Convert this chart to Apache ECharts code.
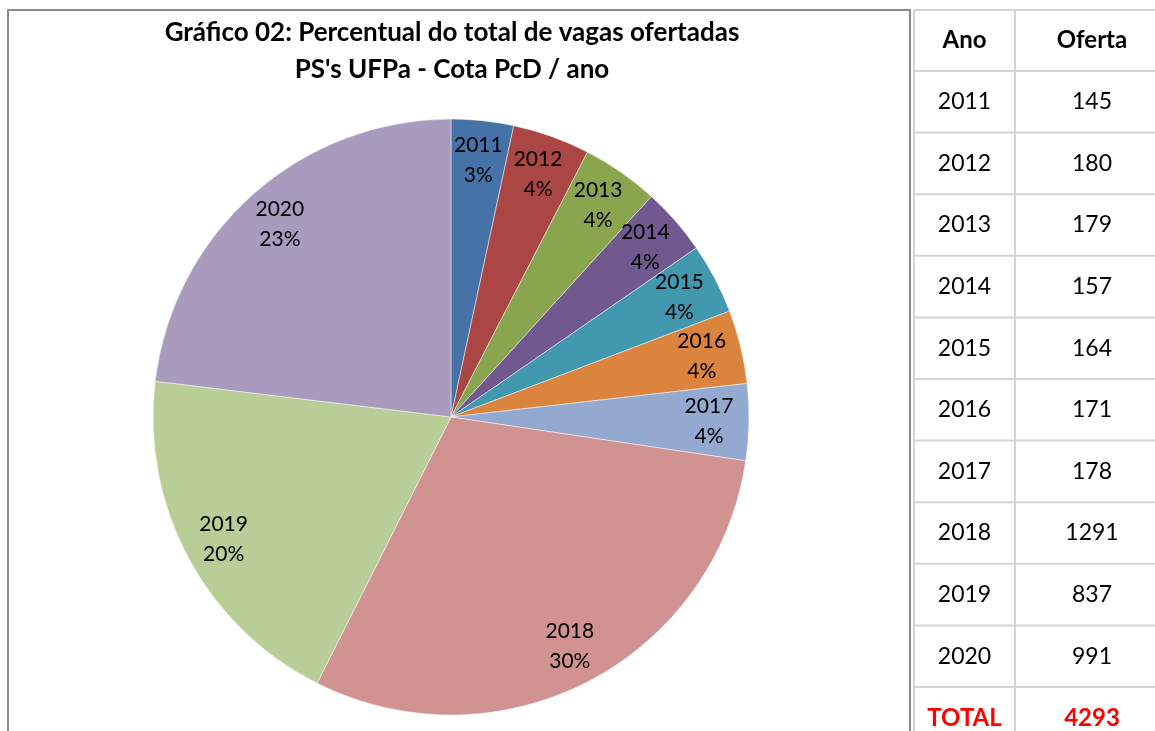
<!DOCTYPE html>
<html>
<head>
<meta charset="utf-8">
<title>Gráfico 02</title>
<script src="https://cdn.jsdelivr.net/npm/echarts@6/dist/echarts.min.js"></script>
<style>
  html, body { margin: 0; padding: 0; background: #fff; }
  #chart { width: 1155px; height: 731px; }
</style>
</head>
<body>
<div id="chart"></div>
<script>
// dados do gráfico / tabela
var anos = ['2011', '2012', '2013', '2014', '2015', '2016', '2017', '2018', '2019', '2020'];
var oferta = [145, 180, 179, 157, 164, 171, 178, 1291, 837, 991];
var cores = ['#4572A7', '#AA4643', '#89A54E', '#71588F', '#4198AF', '#DB843D', '#93A9CF', '#D19392', '#B9CD96', '#A99BBD'];
var titulo = ['Gráfico 02: Percentual do total de vagas ofertadas', "PS's UFPa - Cota PcD / ano"];
var cabecalho = ['Ano', 'Oferta'];

var fonte = 'Lato';
var chart = echarts.init(document.getElementById('chart'));

var total = 0;
for (var i = 0; i < oferta.length; i++) total += oferta[i];

var pieData = [];
for (var i = 0; i < anos.length; i++) {
  pieData.push({ name: anos[i], value: oferta[i], itemStyle: { color: cores[i] } });
}

// tabela à direita (graphic)
var tab = { x0: 914, x1: 1015, x2: 1175, y0: 10, h0: 61, h: 61.6 };
var graphic = [];
// moldura do gráfico
graphic.push({
  type: 'rect', shape: { x: 8, y: 10, width: 902, height: 740 },
  style: { fill: null, stroke: '#8a8a8a', lineWidth: 2 }, z: 10
});
// título
graphic.push({
  type: 'text', x: 452, y: 33,
  style: { text: titulo[0], font: 'bold 26px ' + fonte, fill: '#000', align: 'center', verticalAlign: 'middle' }
});
graphic.push({
  type: 'text', x: 452, y: 70,
  style: { text: titulo[1], font: 'bold 26px ' + fonte, fill: '#000', align: 'center', verticalAlign: 'middle' }
});

var linhas = [cabecalho];
for (var i = 0; i < anos.length; i++) linhas.push([anos[i], String(oferta[i])]);
linhas.push(['TOTAL', String(total)]);

var lc = '#d4d4d4';
var yTop = tab.y0;
for (var r = 0; r < linhas.length; r++) {
  var hh = r === 0 ? tab.h0 : tab.h;
  var cy = yTop + hh / 2;
  var bold = (r === 0 || r === linhas.length - 1);
  var cor = r === linhas.length - 1 ? '#ff0000' : '#000';
  var f = bold ? 'bold 24px ' + fonte : '23px ' + fonte;
  graphic.push({
    type: 'text', x: (tab.x0 + tab.x1) / 2, y: cy,
    style: { text: linhas[r][0], font: f, fill: cor, align: 'center', verticalAlign: 'middle' }
  });
  graphic.push({
    type: 'text', x: 1092, y: cy,
    style: { text: linhas[r][1], font: f, fill: cor, align: 'center', verticalAlign: 'middle' }
  });
  graphic.push({
    type: 'line', shape: { x1: tab.x0, y1: yTop, x2: tab.x2, y2: yTop },
    style: { stroke: lc, lineWidth: 2 }
  });
  yTop += hh;
}
graphic.push({ type: 'line', shape: { x1: tab.x0, y1: tab.y0, x2: tab.x0, y2: 760 }, style: { stroke: lc, lineWidth: 2 } });
graphic.push({ type: 'line', shape: { x1: tab.x1, y1: tab.y0, x2: tab.x1, y2: 760 }, style: { stroke: lc, lineWidth: 2 } });

var option = {
  backgroundColor: '#fff',
  animation: false,
  graphic: graphic,
  series: [
    {
      // fatias
      type: 'pie',
      center: [451, 417],
      radius: [0, 298],
      startAngle: 90,
      clockwise: true,
      silent: true,
      label: { show: false },
      labelLine: { show: false },
      itemStyle: { borderColor: 'rgba(255,255,255,0.6)', borderWidth: 0.8 },
      data: pieData
    },
    {
      // rótulos (anel transparente, rótulo no meio do anel ~0.85r)
      type: 'pie',
      center: [451, 417],
      radius: [212, 298],
      startAngle: 90,
      clockwise: true,
      silent: true,
      avoidLabelOverlap: false,
      labelLayout: { hideOverlap: false },
      itemStyle: { color: 'rgba(0,0,0,0)' },
      label: {
        show: true,
        position: 'inside',
        formatter: function (p) { return p.name + '\n' + Math.round(p.percent) + '%'; },
        fontFamily: fonte,
        fontSize: 21,
        lineHeight: 30,
        color: '#000'
      },
      labelLine: { show: false },
      data: anos.map(function (a, i) { return { name: a, value: oferta[i] }; })
    }
  ]
};
chart.setOption(option);
</script>
</body>
</html>
